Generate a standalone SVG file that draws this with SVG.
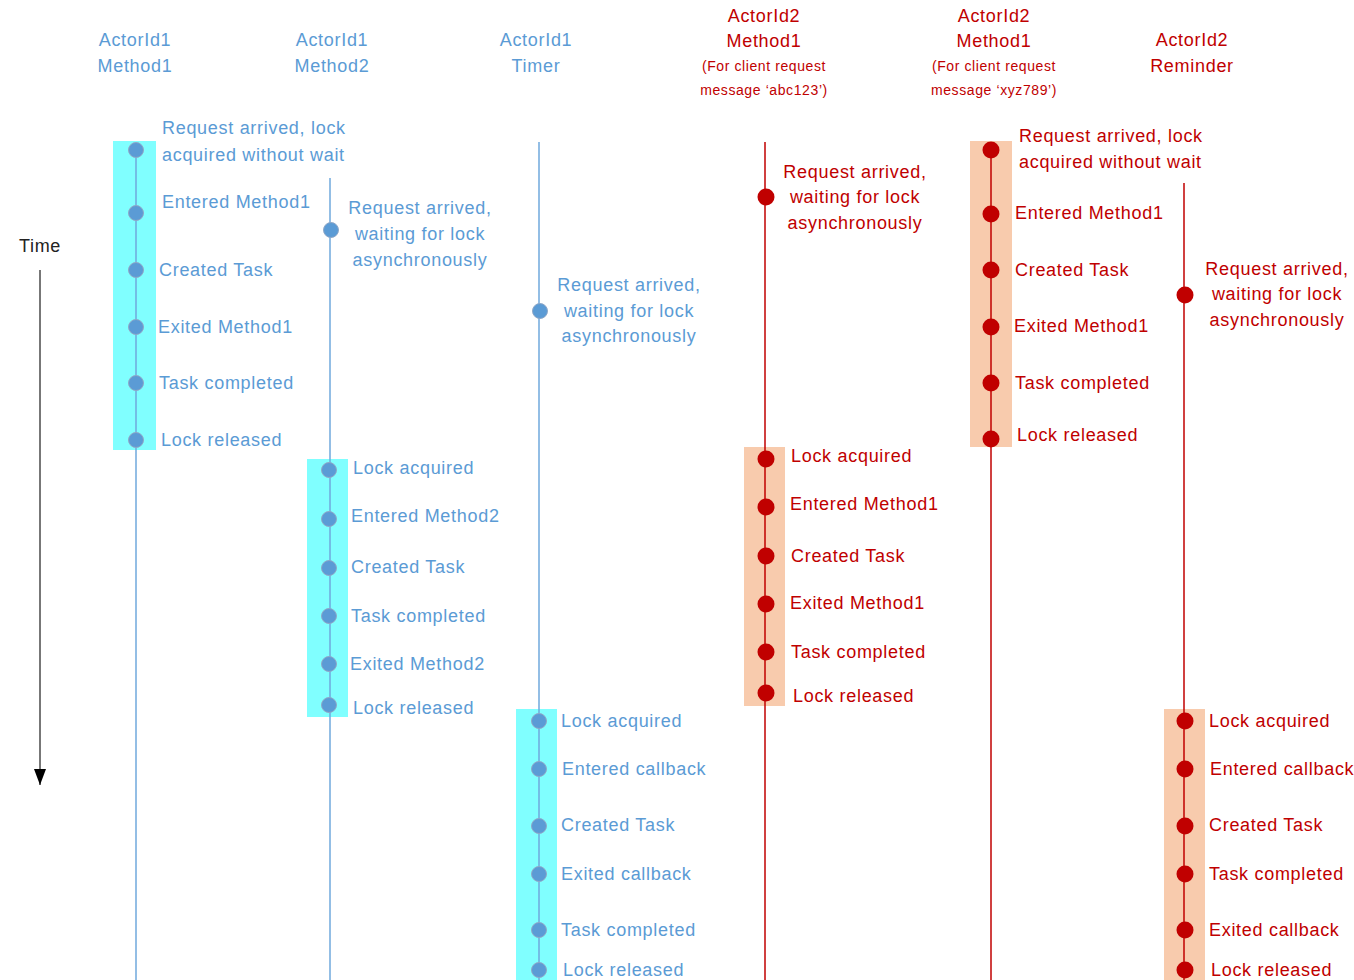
<svg xmlns="http://www.w3.org/2000/svg" width="1354" height="980" viewBox="0 0 1354 980">
  <style>
    text { font-family: "Liberation Sans", Arial, sans-serif; font-size: 18px; letter-spacing: 0.7px; dominant-baseline: central; }
    .b { fill: #5B9BD5; }
    .r { fill: #C00000; }
    .c { text-anchor: middle; }
    .sm { font-size: 14px; letter-spacing: 0.6px; }
    .bdot { fill: #5B9BD5; stroke: #8FA8C8; stroke-width: 1; }
    .rdot { fill: #C00000; }
    .bline { stroke: #6FA8DC; stroke-width: 1.5; fill: none; }
    .rline { stroke: #C00000; stroke-width: 1.5; fill: none; }
    .cyan { fill: #80FFFF; }
    .peach { fill: #F8CBAD; }
    .time { fill: #222; }
  </style>
  <defs>
    <!-- solid triangular head, pointing along the line direction -->
    <marker id="arrow" viewBox="0 0 16 12" refX="16" refY="6" markerWidth="16" markerHeight="12" markerUnits="userSpaceOnUse" orient="auto">
      <path d="M0,0 L16,6 L0,12 Z" fill="#000"/>
    </marker>
  </defs>
  <rect width="1354" height="980" fill="#FFFFFF"/>

  <!-- lock-holding spans -->
  <g id="spans">
    <rect class="cyan" x="113" y="141" width="43" height="309"/>
    <rect class="cyan" x="307" y="459" width="41" height="258"/>
    <rect class="cyan" x="516" y="709" width="41" height="271"/>
    <rect class="peach" x="744" y="447" width="41" height="259"/>
    <rect class="peach" x="970" y="141" width="42" height="306"/>
    <rect class="peach" x="1164" y="709" width="41" height="271"/>
  </g>

  <!-- lane lines and time axis -->
  <g id="connectors">
    <line class="bline" x1="136" y1="143" x2="136" y2="980"/>
    <line class="bline" x1="330" y1="178" x2="330" y2="980"/>
    <line class="bline" x1="539" y1="142" x2="539" y2="980"/>
    <line class="rline" x1="765" y1="142" x2="765" y2="980"/>
    <line class="rline" x1="991" y1="150" x2="991" y2="980"/>
    <line class="rline" x1="1184" y1="183" x2="1184" y2="980"/>
    <line x1="40" y1="270" x2="40" y2="785" stroke="#777" stroke-width="2" marker-end="url(#arrow)"/>
  </g>

  <!-- headers -->
  <g id="hdr-a1m1"><text class="b c" x="135" y="40">ActorId1</text><text class="b c" x="135" y="66">Method1</text></g>
  <g id="hdr-a1m2"><text class="b c" x="332" y="40">ActorId1</text><text class="b c" x="332" y="66">Method2</text></g>
  <g id="hdr-a1timer"><text class="b c" x="536" y="40">ActorId1</text><text class="b c" x="536" y="66">Timer</text></g>
  <g id="hdr-a2m1a">
    <text class="r c" x="764" y="16">ActorId2</text><text class="r c" x="764" y="41">Method1</text>
    <text class="r c sm" x="764" y="66">(For client request</text><text class="r c sm" x="764" y="90">message ‘abc123’)</text>
  </g>
  <g id="hdr-a2m1b">
    <text class="r c" x="994" y="16">ActorId2</text><text class="r c" x="994" y="41">Method1</text>
    <text class="r c sm" x="994" y="66">(For client request</text><text class="r c sm" x="994" y="90">message ‘xyz789’)</text>
  </g>
  <g id="hdr-a2rem"><text class="r c" x="1192" y="40">ActorId2</text><text class="r c" x="1192" y="66">Reminder</text></g>
  <g id="time-label"><text class="time c" x="40" y="246">Time</text></g>

  <!-- ActorId1 Method1 -->
  <g id="a1m1">
    <g id="a1m1-e1"><circle class="bdot" cx="136" cy="150" r="7.5"/><text class="b" x="162" y="128">Request arrived, lock</text><text class="b" x="162" y="155">acquired without wait</text></g>
    <g id="a1m1-e2"><circle class="bdot" cx="136" cy="213" r="7.5"/><text class="b" x="162" y="202">Entered Method1</text></g>
    <g id="a1m1-e3"><circle class="bdot" cx="136" cy="270" r="7.5"/><text class="b" x="159" y="270">Created Task</text></g>
    <g id="a1m1-e4"><circle class="bdot" cx="136" cy="327" r="7.5"/><text class="b" x="158" y="327">Exited Method1</text></g>
    <g id="a1m1-e5"><circle class="bdot" cx="136" cy="383" r="7.5"/><text class="b" x="159" y="383">Task completed</text></g>
    <g id="a1m1-e6"><circle class="bdot" cx="136" cy="440" r="7.5"/><text class="b" x="161" y="440">Lock released</text></g>
  </g>

  <!-- ActorId1 Method2 -->
  <g id="a1m2">
    <g id="a1m2-wait"><circle class="bdot" cx="331" cy="230" r="7.5"/><text class="b c" x="420" y="208">Request arrived,</text><text class="b c" x="420" y="234">waiting for lock</text><text class="b c" x="420" y="260">asynchronously</text></g>
    <g id="a1m2-e1"><circle class="bdot" cx="329" cy="470" r="7.5"/><text class="b" x="353" y="468">Lock acquired</text></g>
    <g id="a1m2-e2"><circle class="bdot" cx="329" cy="519" r="7.5"/><text class="b" x="351" y="516">Entered Method2</text></g>
    <g id="a1m2-e3"><circle class="bdot" cx="329" cy="568" r="7.5"/><text class="b" x="351" y="567">Created Task</text></g>
    <g id="a1m2-e4"><circle class="bdot" cx="329" cy="616" r="7.5"/><text class="b" x="351" y="616">Task completed</text></g>
    <g id="a1m2-e5"><circle class="bdot" cx="329" cy="664" r="7.5"/><text class="b" x="350" y="664">Exited Method2</text></g>
    <g id="a1m2-e6"><circle class="bdot" cx="329" cy="705" r="7.5"/><text class="b" x="353" y="708">Lock released</text></g>
  </g>

  <!-- ActorId1 Timer -->
  <g id="a1timer">
    <g id="a1timer-wait"><circle class="bdot" cx="540" cy="311" r="7.5"/><text class="b c" x="629" y="285">Request arrived,</text><text class="b c" x="629" y="311">waiting for lock</text><text class="b c" x="629" y="336">asynchronously</text></g>
    <g id="a1timer-e1"><circle class="bdot" cx="539" cy="721" r="7.5"/><text class="b" x="561" y="721">Lock acquired</text></g>
    <g id="a1timer-e2"><circle class="bdot" cx="539" cy="769" r="7.5"/><text class="b" x="562" y="769">Entered callback</text></g>
    <g id="a1timer-e3"><circle class="bdot" cx="539" cy="826" r="7.5"/><text class="b" x="561" y="825">Created Task</text></g>
    <g id="a1timer-e4"><circle class="bdot" cx="539" cy="874" r="7.5"/><text class="b" x="561" y="874">Exited callback</text></g>
    <g id="a1timer-e5"><circle class="bdot" cx="539" cy="930" r="7.5"/><text class="b" x="561" y="930">Task completed</text></g>
    <g id="a1timer-e6"><circle class="bdot" cx="539" cy="970" r="7.5"/><text class="b" x="563" y="970">Lock released</text></g>
  </g>

  <!-- ActorId2 Method1, message abc123 -->
  <g id="a2m1a">
    <g id="a2m1a-wait"><circle class="rdot" cx="766" cy="197" r="8.5"/><text class="r c" x="855" y="172">Request arrived,</text><text class="r c" x="855" y="197">waiting for lock</text><text class="r c" x="855" y="223">asynchronously</text></g>
    <g id="a2m1a-e1"><circle class="rdot" cx="766" cy="459" r="8.5"/><text class="r" x="791" y="456">Lock acquired</text></g>
    <g id="a2m1a-e2"><circle class="rdot" cx="766" cy="507" r="8.5"/><text class="r" x="790" y="504">Entered Method1</text></g>
    <g id="a2m1a-e3"><circle class="rdot" cx="766" cy="556" r="8.5"/><text class="r" x="791" y="556">Created Task</text></g>
    <g id="a2m1a-e4"><circle class="rdot" cx="766" cy="604" r="8.5"/><text class="r" x="790" y="603">Exited Method1</text></g>
    <g id="a2m1a-e5"><circle class="rdot" cx="766" cy="652" r="8.5"/><text class="r" x="791" y="652">Task completed</text></g>
    <g id="a2m1a-e6"><circle class="rdot" cx="766" cy="693" r="8.5"/><text class="r" x="793" y="696">Lock released</text></g>
  </g>

  <!-- ActorId2 Method1, message xyz789 -->
  <g id="a2m1b">
    <g id="a2m1b-e1"><circle class="rdot" cx="991" cy="150" r="8.5"/><text class="r" x="1019" y="136">Request arrived, lock</text><text class="r" x="1019" y="162">acquired without wait</text></g>
    <g id="a2m1b-e2"><circle class="rdot" cx="991" cy="214" r="8.5"/><text class="r" x="1015" y="213">Entered Method1</text></g>
    <g id="a2m1b-e3"><circle class="rdot" cx="991" cy="270" r="8.5"/><text class="r" x="1015" y="270">Created Task</text></g>
    <g id="a2m1b-e4"><circle class="rdot" cx="991" cy="327" r="8.5"/><text class="r" x="1014" y="326">Exited Method1</text></g>
    <g id="a2m1b-e5"><circle class="rdot" cx="991" cy="383" r="8.5"/><text class="r" x="1015" y="383">Task completed</text></g>
    <g id="a2m1b-e6"><circle class="rdot" cx="991" cy="439" r="8.5"/><text class="r" x="1017" y="435">Lock released</text></g>
  </g>

  <!-- ActorId2 Reminder -->
  <g id="a2rem">
    <g id="a2rem-wait"><circle class="rdot" cx="1185" cy="295" r="8.5"/><text class="r c" x="1277" y="269">Request arrived,</text><text class="r c" x="1277" y="294">waiting for lock</text><text class="r c" x="1277" y="320">asynchronously</text></g>
    <g id="a2rem-e1"><circle class="rdot" cx="1185" cy="721" r="8.5"/><text class="r" x="1209" y="721">Lock acquired</text></g>
    <g id="a2rem-e2"><circle class="rdot" cx="1185" cy="769" r="8.5"/><text class="r" x="1210" y="769">Entered callback</text></g>
    <g id="a2rem-e3"><circle class="rdot" cx="1185" cy="826" r="8.5"/><text class="r" x="1209" y="825">Created Task</text></g>
    <g id="a2rem-e4"><circle class="rdot" cx="1185" cy="874" r="8.5"/><text class="r" x="1209" y="874">Task completed</text></g>
    <g id="a2rem-e5"><circle class="rdot" cx="1185" cy="930" r="8.5"/><text class="r" x="1209" y="930">Exited callback</text></g>
    <g id="a2rem-e6"><circle class="rdot" cx="1185" cy="970" r="8.5"/><text class="r" x="1211" y="970">Lock released</text></g>
  </g>
</svg>
